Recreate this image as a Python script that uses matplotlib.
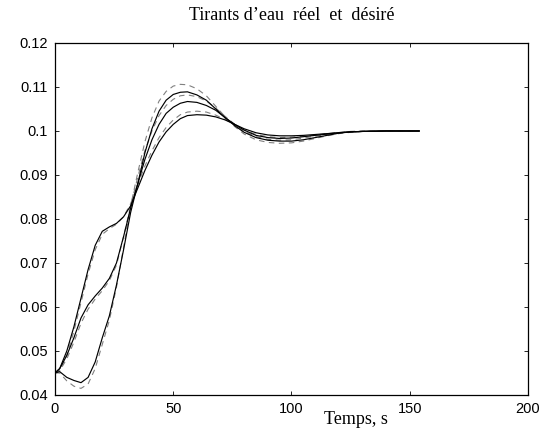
import matplotlib
matplotlib.use("Agg")
import matplotlib.pyplot as plt

# ── Data ──

TIME = [0, 2, 5, 8, 11, 14, 17, 20, 23, 26, 29, 32, 35, 38, 41, 44, 47, 50,
        53, 56, 60, 64, 68, 72, 76, 80, 85, 90, 95, 100, 105, 110, 115, 120,
        125, 130, 140, 154]

# real draft (solid)
REAL_A = [0.0450, 0.0460, 0.0500, 0.0555, 0.0620, 0.0685, 0.0740, 0.0772,
          0.0782, 0.0790, 0.0805, 0.0830, 0.0870, 0.0910, 0.0945, 0.0975,
          0.0998, 0.1015, 0.1028, 0.1035, 0.1037, 0.1036, 0.1032, 0.1025,
          0.1015, 0.1005, 0.0996, 0.0991, 0.0989, 0.0989, 0.0990, 0.0992,
          0.0994, 0.0996, 0.0998, 0.0999, 0.1000, 0.1000]
REAL_B = [0.0450, 0.0460, 0.0490, 0.0530, 0.0575, 0.0605, 0.0625, 0.0643,
          0.0665, 0.0700, 0.0760, 0.0825, 0.0880, 0.0935, 0.0980, 0.1015,
          0.1040, 0.1054, 0.1063, 0.1067, 0.1065, 0.1058, 0.1047, 0.1030,
          0.1015, 0.1002, 0.0990, 0.0985, 0.0983, 0.0984, 0.0987, 0.0990,
          0.0993, 0.0996, 0.0998, 0.0999, 0.1000, 0.1000]
REAL_C = [0.0450, 0.0453, 0.0440, 0.0433, 0.0428, 0.0440, 0.0475, 0.0530,
          0.0580, 0.0650, 0.0730, 0.0815, 0.0880, 0.0950, 0.1005, 0.1045,
          0.1070, 0.1083, 0.1088, 0.1089, 0.1082, 0.1070, 0.1050, 0.1030,
          0.1012, 0.0997, 0.0985, 0.0979, 0.0977, 0.0977, 0.0980, 0.0985,
          0.0990, 0.0995, 0.0998, 0.0999, 0.1000, 0.1000]

# desired draft (dashed)
WANT_A = [0.0450, 0.0455, 0.0490, 0.0545, 0.0610, 0.0675, 0.0730, 0.0765,
          0.0778, 0.0788, 0.0805, 0.0835, 0.0878, 0.0920, 0.0955, 0.0985,
          0.1008, 0.1025, 0.1037, 0.1043, 0.1045, 0.1043, 0.1036, 0.1026,
          0.1014, 0.1002, 0.0992, 0.0987, 0.0985, 0.0986, 0.0988, 0.0991,
          0.0994, 0.0997, 0.0999, 0.1000, 0.1000, 0.1000]
WANT_B = [0.0450, 0.0455, 0.0482, 0.0520, 0.0563, 0.0595, 0.0618, 0.0637,
          0.0660, 0.0695, 0.0760, 0.0830, 0.0895, 0.0955, 0.1000, 0.1035,
          0.1058, 0.1072, 0.1080, 0.1082, 0.1078, 0.1068, 0.1052, 0.1033,
          0.1015, 0.0999, 0.0987, 0.0981, 0.0979, 0.0980, 0.0984, 0.0988,
          0.0992, 0.0995, 0.0998, 0.0999, 0.1000, 0.1000]
WANT_C = [0.0450, 0.0450, 0.0432, 0.0420, 0.0415, 0.0425, 0.0460, 0.0515,
          0.0570, 0.0645, 0.0735, 0.0830, 0.0905, 0.0975, 0.1030, 0.1068,
          0.1090, 0.1102, 0.1106, 0.1105, 0.1096, 0.1080, 0.1056, 0.1032,
          0.1010, 0.0993, 0.0980, 0.0974, 0.0972, 0.0973, 0.0977, 0.0983,
          0.0989, 0.0994, 0.0997, 0.0999, 0.1000, 0.1000]

X_TICKS = [0, 50, 100, 150, 200]
Y_TICKS = [0.04, 0.05, 0.06, 0.07, 0.08, 0.09, 0.10, 0.11, 0.12]
Y_LABELS = ["0.04", "0.05", "0.06", "0.07", "0.08", "0.09", "0.1", "0.11", "0.12"]

TITLE = "Tirants d\u2019eau  réel  et  désiré"
XLABEL = "Temps, s"

# ── Plot ──

fig = plt.figure(figsize=(5.46, 4.29), dpi=100)
ax = fig.add_axes([0.1007, 0.0793, 0.8663, 0.8205])

for ys in (WANT_A, WANT_B, WANT_C):
    ax.plot(TIME, ys, color="#808080", linewidth=0.8, linestyle=(0, (5, 4)))
for ys in (REAL_A, REAL_B, REAL_C):
    ax.plot(TIME, ys, color="black", linewidth=0.85)

ax.set_xlim(0, 200)
ax.set_ylim(0.04, 0.12)
ax.set_xticks(X_TICKS)
ax.set_yticks(Y_TICKS)
ax.set_yticklabels(Y_LABELS)
ax.tick_params(direction="in", length=3, width=0.6, top=True, right=True,
               labelsize=10.5, pad=5)
for lab in ax.get_xticklabels() + ax.get_yticklabels():
    lab.set_fontfamily("Liberation Sans")
for sp in ax.spines.values():
    sp.set_linewidth(0.9)

fig.text(0.534, 1 - 15 / 429, TITLE, ha="center", va="center",
         fontsize=13, family="Liberation Serif")
fig.text(356 / 546, 1 - 419 / 429, XLABEL, ha="center", va="center",
         fontsize=13, family="Liberation Serif")

fig.savefig("out.png", dpi=100)
